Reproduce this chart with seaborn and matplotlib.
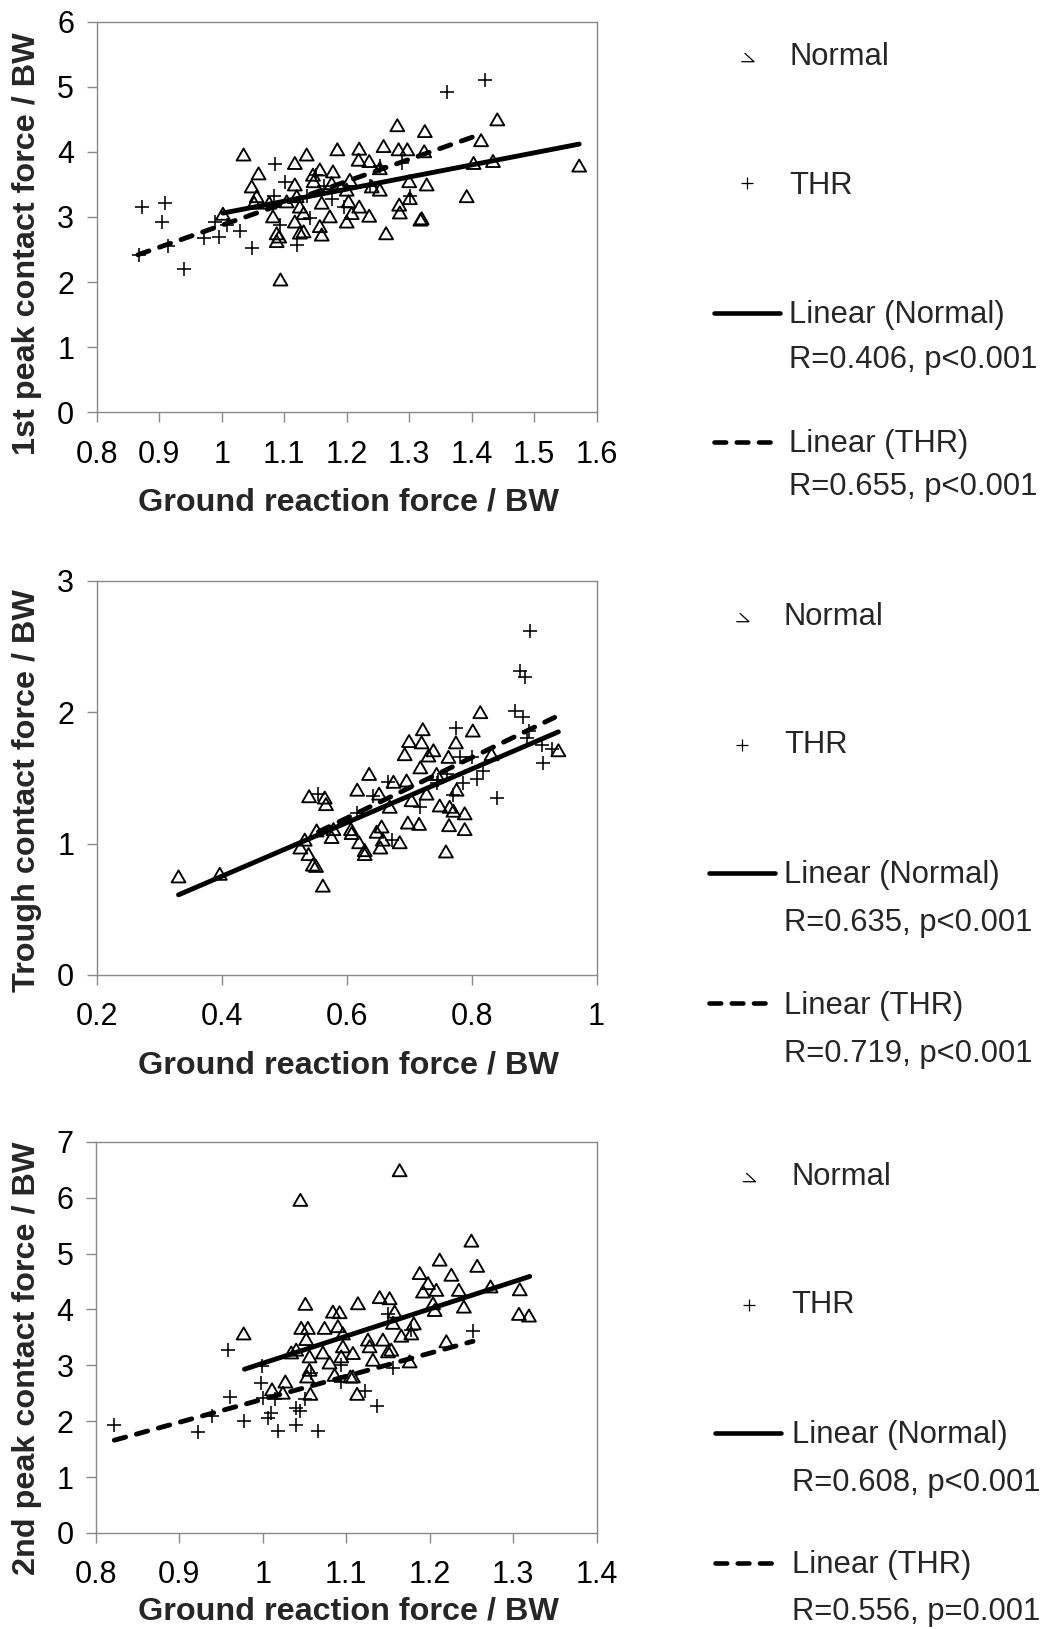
import numpy as np
import pandas as pd
import matplotlib
matplotlib.use("Agg")
import matplotlib.pyplot as plt
from matplotlib.path import Path
from matplotlib.ticker import FuncFormatter, MultipleLocator
import seaborn as sns

# ---------------- data ----------------
# Panel 1: 1st peak contact force vs GRF
p1_normal_x = [1.035, 1.059, 1.048, 1.056, 1.052, 1.002, 1.082, 1.088, 1.088, 1.092,
               1.094, 1.117, 1.136, 1.117, 1.120, 1.125, 1.131, 1.117, 1.131, 1.125,
               1.146, 1.147, 1.157, 1.160, 1.157, 1.160, 1.173, 1.178, 1.176, 1.185,
               1.200, 1.203, 1.200, 1.205, 1.208, 1.220, 1.219, 1.220, 1.236, 1.236,
               1.240, 1.253, 1.253, 1.259, 1.263, 1.281, 1.283, 1.284, 1.285, 1.297,
               1.300, 1.301, 1.318, 1.320, 1.324, 1.325, 1.328, 1.392, 1.403, 1.415,
               1.434, 1.441, 1.572, 1.076, 1.104]
p1_normal_y = [3.96, 3.67, 3.47, 3.32, 3.22, 3.05, 3.01, 2.75, 2.63, 2.70,
               2.04, 3.83, 3.96, 3.50, 3.32, 3.16, 3.06, 2.93, 2.78, 2.76,
               3.65, 3.55, 3.73, 3.22, 2.86, 2.73, 3.01, 3.70, 3.52, 4.04,
               3.42, 3.24, 2.93, 3.57, 3.06, 4.05, 3.88, 3.16, 3.86, 3.02,
               3.47, 3.42, 3.75, 4.09, 2.75, 4.41, 4.04, 3.19, 3.07, 4.04,
               3.55, 3.29, 2.96, 2.98, 4.01, 4.32, 3.50, 3.32, 3.83, 4.18,
               3.86, 4.50, 3.79, 3.22, 3.24]
p1_thr_x = [0.872, 0.909, 0.904, 0.867, 0.914, 0.939, 0.971, 0.995, 0.989, 1.008,
            1.029, 1.049, 1.085, 1.101, 1.083, 1.094, 1.121, 1.141, 1.151, 1.176,
            1.195, 1.237, 1.253, 1.288, 1.301, 1.361, 1.421, 1.136, 1.163]
p1_thr_y = [3.16, 3.22, 2.92, 2.41, 2.56, 2.20, 2.68, 2.69, 2.93, 2.88,
            2.78, 2.52, 3.82, 3.53, 3.32, 2.88, 2.57, 2.98, 3.64, 3.28,
            3.16, 3.47, 3.79, 3.83, 3.32, 4.92, 5.11, 3.32, 3.47]
p1_fit_normal_x = [1.002, 1.572]
p1_fit_normal_y = [3.06, 4.12]
p1_fit_thr_x = [0.866, 1.408]
p1_fit_thr_y = [2.42, 4.25]

# Panel 2: trough contact force vs GRF
p2_normal_x = [0.331, 0.397, 0.540, 0.565, 0.567, 0.526, 0.533, 0.539, 0.546, 0.551,
               0.562, 0.552, 0.579, 0.576, 0.607, 0.608, 0.617, 0.620, 0.629, 0.629,
               0.636, 0.648, 0.652, 0.654, 0.656, 0.658, 0.669, 0.675, 0.685, 0.693,
               0.696, 0.698, 0.700, 0.704, 0.716, 0.718, 0.720, 0.722, 0.728, 0.731,
               0.739, 0.744, 0.749, 0.759, 0.763, 0.764, 0.765, 0.771, 0.775, 0.776,
               0.789, 0.789, 0.802, 0.814, 0.832, 0.939]
p2_normal_y = [0.75, 0.77, 1.36, 1.35, 1.30, 0.97, 1.03, 0.92, 0.84, 0.83,
               0.68, 1.10, 1.11, 1.05, 1.11, 1.08, 1.41, 1.01, 0.95, 0.92,
               1.53, 1.09, 1.38, 0.97, 1.13, 1.03, 1.28, 1.47, 1.01, 1.68,
               1.48, 1.16, 1.78, 1.33, 1.15, 1.58, 1.77, 1.87, 1.38, 1.67,
               1.71, 1.53, 1.29, 0.94, 1.66, 1.14, 1.28, 1.25, 1.77, 1.41,
               1.23, 1.11, 1.86, 2.00, 1.68, 1.71]
p2_thr_x = [0.555, 0.616, 0.643, 0.667, 0.672, 0.717, 0.747, 0.770, 0.775, 0.781,
            0.787, 0.800, 0.808, 0.819, 0.840, 0.869, 0.877, 0.886, 0.883, 0.894,
            0.892, 0.888, 0.912, 0.915, 0.928, 0.760, 0.744]
p2_thr_y = [1.38, 1.23, 1.36, 1.47, 1.03, 1.28, 1.48, 1.37, 1.88, 1.66,
            1.46, 1.66, 1.49, 1.55, 1.35, 2.01, 2.31, 2.27, 1.96, 2.62,
            1.86, 1.80, 1.75, 1.61, 1.72, 1.53, 1.46]
p2_fit_normal_x = [0.331, 0.939]
p2_fit_normal_y = [0.61, 1.85]
p2_fit_thr_x = [0.555, 0.933]
p2_fit_thr_y = [1.09, 1.96]

# Panel 3: 2nd peak contact force vs GRF
p3_normal_x = [1.045, 1.164, 0.977, 1.051, 1.046, 1.054, 1.052, 1.034, 1.040, 1.056,
               1.056, 1.053, 1.057, 1.011, 1.024, 1.027, 1.072, 1.074, 1.084, 1.092,
               1.090, 1.096, 1.096, 1.094, 1.080, 1.086, 1.105, 1.108, 1.113, 1.108,
               1.114, 1.126, 1.128, 1.132, 1.140, 1.152, 1.158, 1.156, 1.144, 1.150,
               1.154, 1.166, 1.176, 1.178, 1.181, 1.188, 1.192, 1.198, 1.204, 1.206,
               1.208, 1.212, 1.220, 1.226, 1.235, 1.241, 1.250, 1.257, 1.273, 1.308,
               1.307, 1.319]
p3_normal_y = [5.96, 6.49, 3.57, 4.10, 3.67, 3.67, 3.47, 3.23, 3.28, 3.16,
               2.92, 2.80, 2.49, 2.57, 2.51, 2.71, 3.23, 3.67, 3.96, 3.95,
               3.70, 3.57, 3.34, 3.16, 3.05, 2.83, 2.80, 2.80, 2.49, 3.22,
               4.11, 3.46, 3.34, 3.10, 4.22, 4.20, 3.96, 3.76, 3.46, 3.25,
               3.28, 3.53, 3.07, 3.57, 3.75, 4.65, 4.32, 4.47, 4.11, 3.99,
               4.35, 4.89, 3.43, 4.62, 4.35, 4.05, 5.23, 4.78, 4.41, 4.36,
               3.92, 3.89]
p3_thr_x = [0.822, 0.922, 0.939, 0.958, 0.961, 0.978, 0.998, 0.999, 1.000, 1.010,
            1.006, 1.018, 1.014, 1.040, 1.044, 1.040, 1.051, 1.058, 1.066, 1.094,
            1.094, 1.122, 1.137, 1.150, 1.156, 1.178, 1.252]
p3_thr_y = [1.94, 1.80, 2.10, 3.28, 2.43, 2.00, 2.68, 2.98, 2.42, 2.14,
            2.06, 1.82, 2.39, 2.24, 2.18, 1.94, 2.39, 2.87, 1.82, 2.71,
            3.01, 2.54, 2.27, 3.92, 2.95, 3.64, 3.61]
p3_fit_normal_x = [0.978, 1.320]
p3_fit_normal_y = [2.93, 4.59]
p3_fit_thr_x = [0.822, 1.252]
p3_fit_thr_y = [1.66, 3.43]

# axis ranges / ticks / labels
x_limits = [(0.8, 1.6), (0.2, 1.0), (0.8, 1.4)]
x_steps = [0.1, 0.2, 0.1]
y_limits = [(0, 6), (0, 3), (0, 7)]
y_labels = ["1st peak contact force / BW", "Trough contact force / BW",
            "2nd peak contact force / BW"]
x_label = "Ground reaction force / BW"
series_names = ["Normal", "THR", "Linear (Normal)", "Linear (THR)"]
stats_texts = [["R=0.406, p<0.001", "R=0.655, p<0.001"],
               ["R=0.635, p<0.001", "R=0.719, p<0.001"],
               ["R=0.608, p<0.001", "R=0.556, p=0.001"]]

# ---------------- figure ----------------
sns.set_theme(style="white")
plt.rcParams["font.family"] = ["Liberation Sans", "DejaVu Sans"]

W, H = 1050, 1629
fig = plt.figure(figsize=(W / 100, H / 100), dpi=100)

GREY = "#898989"
tri = Path([(0, 0.866), (-1, -0.866), (1, -0.866), (0, 0.866)],
           [Path.MOVETO, Path.LINETO, Path.LINETO, Path.CLOSEPOLY])

# axes boxes in pixels: (left, top, right, bottom)
boxes = [(96.7, 21.7, 596.7, 412.3), (96.7, 580.7, 596.5, 975.0), (96.0, 1141.7, 596.5, 1533.0)]

panels = [
    (p1_normal_x, p1_normal_y, p1_thr_x, p1_thr_y, p1_fit_normal_x, p1_fit_normal_y, p1_fit_thr_x, p1_fit_thr_y),
    (p2_normal_x, p2_normal_y, p2_thr_x, p2_thr_y, p2_fit_normal_x, p2_fit_normal_y, p2_fit_thr_x, p2_fit_thr_y),
    (p3_normal_x, p3_normal_y, p3_thr_x, p3_thr_y, p3_fit_normal_x, p3_fit_normal_y, p3_fit_thr_x, p3_fit_thr_y),
]

fmt = FuncFormatter(lambda v, p: f"{v:g}")
for i, (nx, ny, tx, ty, fnx, fny, ftx, fty) in enumerate(panels):
    l, t, r, b = boxes[i]
    ax = fig.add_axes([l / W, 1 - b / H, (r - l) / W, (b - t) / H])
    dn = pd.DataFrame({"x": nx, "y": ny})
    dt = pd.DataFrame({"x": tx, "y": ty})
    sns.scatterplot(data=dn, x="x", y="y", marker=tri, s=100, color="black",
                    facecolor="none", edgecolor="black", linewidth=1.35, ax=ax, zorder=3)
    sns.scatterplot(data=dt, x="x", y="y", marker="+", s=105, color="black",
                    linewidth=1.15, ax=ax, zorder=3)
    sns.lineplot(x=fnx, y=fny, color="black", linewidth=3.5, solid_capstyle="round",
                 ax=ax, zorder=4)
    sns.lineplot(x=ftx, y=fty, color="black", linewidth=3.5, linestyle=(0, (2.4, 2.3)),
                 dash_capstyle="round", ax=ax, zorder=4)
    ax.set_xlim(*x_limits[i])
    ax.set_ylim(*y_limits[i])
    ax.xaxis.set_major_locator(MultipleLocator(x_steps[i]))
    ax.yaxis.set_major_locator(MultipleLocator(1))
    ax.xaxis.set_major_formatter(fmt)
    ax.yaxis.set_major_formatter(fmt)
    ax.set_xlabel("")
    ax.set_ylabel("")
    for s in ax.spines.values():
        s.set_visible(True)
        s.set_color(GREY)
        s.set_linewidth(1.0)
    ax.tick_params(axis="both", direction="out", length=7.2, width=1.0, color=GREY,
                   labelsize=22, labelcolor="black", bottom=True, left=True,
                   top=False, right=False)
    ax.tick_params(axis="x", pad=12.5)
    ax.tick_params(axis="y", pad=9)
    ax.grid(False)

# overlay for labels and legend (pixel coordinates)
ov = fig.add_axes([0, 0, 1, 1])
ov.set_xlim(0, W)
ov.set_ylim(H, 0)
ov.axis("off")
ov.patch.set_alpha(0)

ylab_cy = [243.3, 790.8, 1358.0]
xlab_base = [510.0, 1073.0, 1619.0]
for i in range(3):
    ov.text(35, ylab_cy[i], y_labels[i], rotation=90, rotation_mode="anchor",
            ha="center", va="baseline", fontsize=23.3, fontweight="bold")
    ov.text(348, xlab_base[i], x_label, ha="center", va="baseline",
            fontsize=23.3, fontweight="bold")

# legend layout per panel
leg_text_x = [789, 784, 791.7]
leg_base = [[65, 194, 323.3, 368.3, 451.7, 495],
            [625, 753.3, 883.3, 930.7, 1014, 1061.7],
            [1185, 1313.3, 1442.7, 1490.7, 1572.7, 1620]]
leg_glyph = [(741.7, 61.7), (736.7, 621.7), (743.3, 1181.7)]
leg_plus = [(746.7, 183.3), (741.7, 745.0), (749.3, 1305.0)]
leg_solid = [(711.7, 781.7, 313.3), (707.3, 777.3, 873.3), (713.3, 783.3, 1433.3)]
leg_dash = [(711.7, 771.7, 441.7), (707.3, 767.3, 1003.3), (713.3, 775.0, 1563.3)]

for i in range(3):
    tx = leg_text_x[i]
    bl = leg_base[i]
    labels = [series_names[0], series_names[1], series_names[2], stats_texts[i][0],
              series_names[3], stats_texts[i][1]]
    for lab, yb in zip(labels, bl):
        ov.text(tx, yb, lab, ha="left", va="baseline", fontsize=22.3)
    gx, gy = leg_glyph[i]
    ov.plot([gx + 3.3, gx + 12.3, gx], [gy - 8.3, gy, gy], color="black", linewidth=0.9)
    px, py = leg_plus[i]
    ov.plot([px], [py], marker="+", ms=8.6, mew=0.9, color="black")
    x0, x1, yy = leg_solid[i]
    ov.plot([x0 + 2, x1 - 2], [yy, yy], color="black", linewidth=3.3, solid_capstyle="round")
    x0, x1, yy = leg_dash[i]
    ov.plot([x0 + 2, x1 - 2], [yy, yy], color="black", linewidth=3.3,
            linestyle=(0, (2.55, 2.3)), dash_capstyle="round")

fig.savefig("out.png", dpi=100)
